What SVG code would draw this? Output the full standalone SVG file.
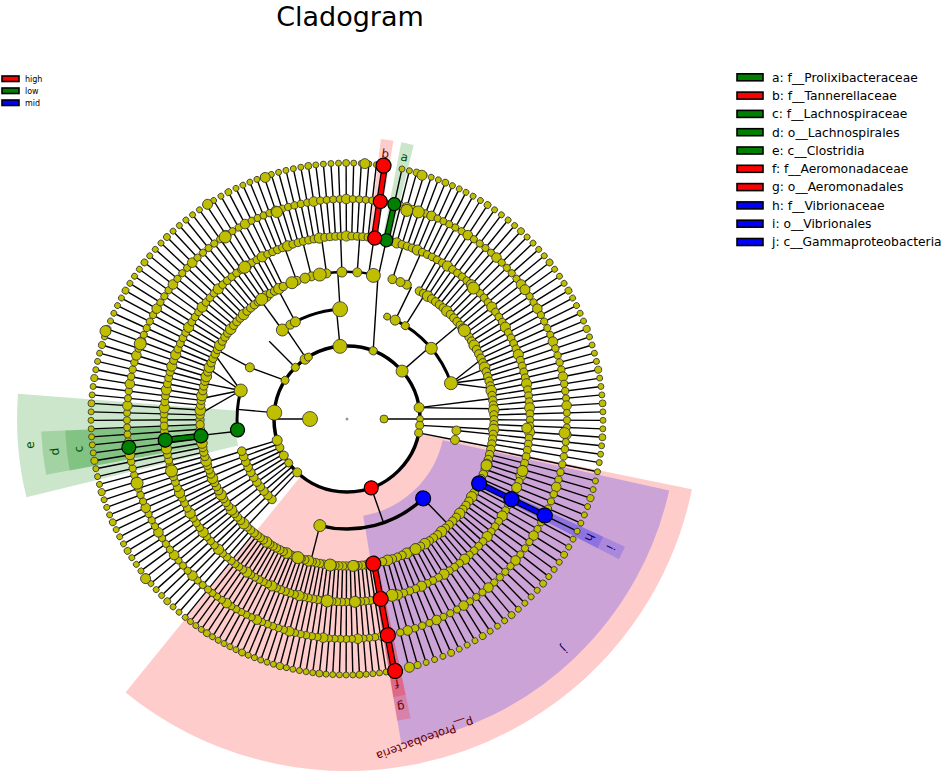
<svg xmlns="http://www.w3.org/2000/svg" width="941" height="772" viewBox="0 0 941 772">
<style>
text{font-family:"DejaVu Sans","Liberation Sans",sans-serif}
.k{stroke:#000;stroke-width:1.4;fill:none}
.arc{fill:none;stroke:#000}
.n{fill:#bfbf00;stroke:#333;stroke-width:0.8}
.hl{fill:none}
.lb{font-size:12px;text-anchor:middle;dominant-baseline:central}
.lg{font-size:12.3px;fill:#000}
.sl{font-size:8px;fill:#000}
.bx{stroke:#000;stroke-width:1.6}
</style>
<defs>
<g id="L3"><line x1="147" x2="256" stroke="currentColor" stroke-width="1.4"/><circle cx="147" r="4.2"/><circle cx="183" r="3.9"/><circle cx="220" r="3.6"/><circle cx="256" r="3"/></g>
<g id="M3"><line x1="147" x2="256" stroke="currentColor" stroke-width="1.4"/><circle cx="147" r="5.3"/><circle cx="183" r="5.1"/><circle cx="220" r="4.8"/><circle cx="256" r="3.5"/></g>
<g id="L2"><line x1="183" x2="256" stroke="currentColor" stroke-width="1.4"/><circle cx="183" r="3.9"/><circle cx="220" r="3.6"/><circle cx="256" r="3"/></g>
<g id="M2"><line x1="183" x2="256" stroke="currentColor" stroke-width="1.4"/><circle cx="183" r="5.1"/><circle cx="220" r="4.8"/><circle cx="256" r="3.5"/></g>
<g id="P"><line x1="73" x2="147" stroke="currentColor" stroke-width="1.4"/><circle cx="110" r="4.3"/></g>
<g id="Q"><line x1="147" x2="183" stroke="currentColor" stroke-width="1.4"/><circle cx="147" r="4.5"/></g>
<g id="Q2"><line x1="147" x2="183" stroke="currentColor" stroke-width="1.4"/></g>
<g id="LV">
<use href="#L3" transform="rotate(179.7)"/><use href="#L3" transform="rotate(-178.4)"/><use href="#M3" transform="rotate(-176.5)"/><use href="#L3" transform="rotate(-174.6)"/><use href="#L3" transform="rotate(-172.7)"/><use href="#M3" transform="rotate(-170.8)"/><use href="#L3" transform="rotate(-168.9)"/><use href="#L3" transform="rotate(-167)"/><use href="#L3" transform="rotate(-165.1)"/><use href="#M3" transform="rotate(-163.2)"/><use href="#L3" transform="rotate(-161.3)"/><use href="#M3" transform="rotate(-159.4)"/><use href="#L3" transform="rotate(-157.5)"/><use href="#L3" transform="rotate(-155.6)"/><use href="#L3" transform="rotate(-153.7)"/><use href="#L3" transform="rotate(-151.8)"/><use href="#M3" transform="rotate(-149.9)"/><use href="#L3" transform="rotate(-148)"/><use href="#L3" transform="rotate(-146.1)"/><use href="#L3" transform="rotate(-144.2)"/><use href="#M3" transform="rotate(-142.3)"/><use href="#L3" transform="rotate(-140.4)"/><use href="#L3" transform="rotate(-138.5)"/><use href="#L3" transform="rotate(-136.6)"/><use href="#M3" transform="rotate(-134.7)"/><use href="#L3" transform="rotate(-132.8)"/><use href="#L3" transform="rotate(-130.9)"/><use href="#L3" transform="rotate(-129)"/><use href="#L3" transform="rotate(-127.1)"/><use href="#L3" transform="rotate(-125.2)"/><use href="#M3" transform="rotate(-123.3)"/><use href="#L3" transform="rotate(-121.4)"/><use href="#L3" transform="rotate(-119.5)"/><use href="#M3" transform="rotate(-117.6)"/><use href="#L3" transform="rotate(-115.7)"/>
<use href="#L2" transform="rotate(-114)"/><use href="#L2" transform="rotate(-112.3)"/><use href="#L2" transform="rotate(-110.6)"/><use href="#M2" transform="rotate(-108.9)"/><use href="#L2" transform="rotate(-107.2)"/><use href="#L2" transform="rotate(-105.5)"/><use href="#L2" transform="rotate(-103.8)"/><use href="#L2" transform="rotate(-102.1)"/><use href="#L2" transform="rotate(-100.4)"/><use href="#M2" transform="rotate(-98.7)"/><use href="#L2" transform="rotate(-97)"/><use href="#L2" transform="rotate(-95.3)"/><use href="#L2" transform="rotate(-93.6)"/><use href="#L2" transform="rotate(-91.9)"/><use href="#M2" transform="rotate(-90.2)"/><use href="#L2" transform="rotate(-88.5)"/><use href="#L2" transform="rotate(-86.8)"/><use href="#L2" transform="rotate(-85.1)"/><use href="#L2" transform="rotate(-83.4)"/><use href="#L2" transform="rotate(-77.6)"/><use href="#L2" transform="rotate(-75.9)"/><use href="#M2" transform="rotate(-74.2)"/><use href="#L2" transform="rotate(-72.5)"/><use href="#L2" transform="rotate(-70.8)"/><use href="#L2" transform="rotate(-69.1)"/><use href="#M2" transform="rotate(-67.4)"/><use href="#L2" transform="rotate(-65.7)"/><use href="#L2" transform="rotate(-64)"/><use href="#L2" transform="rotate(-62.3)"/>
<use href="#Q" transform="rotate(-110)"/><use href="#Q" transform="rotate(-104)"/><use href="#Q" transform="rotate(-98)"/><use href="#Q" transform="rotate(-92)"/><use href="#Q" transform="rotate(-86)"/><use href="#Q" transform="rotate(-72)"/><use href="#Q" transform="rotate(-66)"/><use href="#Q2" transform="rotate(-81.5)"/><use href="#Q2" transform="rotate(-77.6)"/>
<use href="#L3" transform="rotate(-60.5)"/><use href="#L3" transform="rotate(-58.6)"/><use href="#M3" transform="rotate(-56.7)"/><use href="#L3" transform="rotate(-54.8)"/><use href="#L3" transform="rotate(-52.9)"/><use href="#L3" transform="rotate(-51)"/><use href="#L3" transform="rotate(-49.1)"/><use href="#M3" transform="rotate(-47.2)"/><use href="#L3" transform="rotate(-45.3)"/><use href="#L3" transform="rotate(-43.4)"/><use href="#L3" transform="rotate(-41.5)"/><use href="#L3" transform="rotate(-39.6)"/><use href="#M3" transform="rotate(-37.7)"/><use href="#L3" transform="rotate(-35.8)"/><use href="#L3" transform="rotate(-33.9)"/><use href="#L3" transform="rotate(-32)"/><use href="#M3" transform="rotate(-30.1)"/><use href="#L3" transform="rotate(-28.2)"/><use href="#L3" transform="rotate(-26.3)"/><use href="#L3" transform="rotate(-24.4)"/><use href="#L3" transform="rotate(-22.5)"/><use href="#M3" transform="rotate(-20.6)"/><use href="#L3" transform="rotate(-18.7)"/><use href="#L3" transform="rotate(-16.8)"/><use href="#L3" transform="rotate(-14.9)"/><use href="#L3" transform="rotate(-13)"/><use href="#M3" transform="rotate(-11.1)"/><use href="#L3" transform="rotate(-9.2)"/><use href="#L3" transform="rotate(-7.3)"/><use href="#L3" transform="rotate(-5.4)"/><use href="#M3" transform="rotate(-3.5)"/><use href="#L3" transform="rotate(-1.6)"/>
<use href="#L3" transform="rotate(0.3)"/><use href="#L3" transform="rotate(2.2)"/><use href="#M3" transform="rotate(4.1)"/><use href="#L3" transform="rotate(6)"/><use href="#L3" transform="rotate(7.9)"/><use href="#L3" transform="rotate(9.8)"/><use href="#L3" transform="rotate(11.9)"/>
<use href="#L3" transform="rotate(14)"/><use href="#L3" transform="rotate(16)"/><use href="#M3" transform="rotate(18)"/><use href="#L3" transform="rotate(20)"/><use href="#L3" transform="rotate(22)"/><use href="#L3" transform="rotate(24)"/><use href="#L3" transform="rotate(26)"/><use href="#L3" transform="rotate(28)"/><use href="#L3" transform="rotate(30)"/><use href="#M3" transform="rotate(32)"/><use href="#L3" transform="rotate(34)"/><use href="#L3" transform="rotate(36)"/><use href="#L3" transform="rotate(38)"/><use href="#M3" transform="rotate(40)"/><use href="#L3" transform="rotate(42)"/><use href="#L3" transform="rotate(44)"/><use href="#L3" transform="rotate(46)"/><use href="#L3" transform="rotate(48)"/><use href="#M3" transform="rotate(50)"/><use href="#L3" transform="rotate(52)"/><use href="#L3" transform="rotate(54)"/><use href="#L3" transform="rotate(56)"/><use href="#M3" transform="rotate(58)"/><use href="#L3" transform="rotate(60)"/><use href="#L3" transform="rotate(62)"/><use href="#L3" transform="rotate(64)"/><use href="#M3" transform="rotate(66)"/><use href="#L3" transform="rotate(68)"/><use href="#L3" transform="rotate(70)"/><use href="#L3" transform="rotate(72)"/><use href="#M3" transform="rotate(74)"/><use href="#L3" transform="rotate(76)"/>
<use href="#L3" transform="rotate(81.2)"/><use href="#L3" transform="rotate(82.7)"/><use href="#L3" transform="rotate(84.2)"/><use href="#L3" transform="rotate(85.7)"/><use href="#M3" transform="rotate(87.2)"/><use href="#L3" transform="rotate(88.7)"/><use href="#L3" transform="rotate(90.2)"/><use href="#L3" transform="rotate(91.7)"/><use href="#L3" transform="rotate(93.2)"/><use href="#L3" transform="rotate(94.7)"/><use href="#M3" transform="rotate(96.2)"/><use href="#L3" transform="rotate(97.7)"/><use href="#L3" transform="rotate(99.2)"/><use href="#L3" transform="rotate(100.7)"/><use href="#L3" transform="rotate(102.2)"/><use href="#L3" transform="rotate(103.7)"/><use href="#M3" transform="rotate(105.2)"/><use href="#L3" transform="rotate(106.7)"/><use href="#L3" transform="rotate(108.2)"/><use href="#L3" transform="rotate(109.7)"/><use href="#L3" transform="rotate(111.2)"/><use href="#L3" transform="rotate(112.7)"/><use href="#M3" transform="rotate(114.2)"/><use href="#L3" transform="rotate(115.7)"/><use href="#L3" transform="rotate(117.2)"/><use href="#L3" transform="rotate(118.7)"/><use href="#L3" transform="rotate(120.2)"/><use href="#L3" transform="rotate(121.7)"/><use href="#M3" transform="rotate(123.2)"/><use href="#L3" transform="rotate(124.7)"/><use href="#L3" transform="rotate(126.2)"/><use href="#L3" transform="rotate(127.7)"/><use href="#L3" transform="rotate(129.2)"/>
<use href="#L3" transform="rotate(131)"/><use href="#L3" transform="rotate(132.8)"/><use href="#M3" transform="rotate(134.6)"/><use href="#L3" transform="rotate(136.4)"/><use href="#L3" transform="rotate(138.2)"/><use href="#L3" transform="rotate(140)"/><use href="#M3" transform="rotate(141.8)"/><use href="#L3" transform="rotate(143.6)"/><use href="#L3" transform="rotate(145.4)"/><use href="#L3" transform="rotate(147.2)"/><use href="#M3" transform="rotate(149)"/><use href="#L3" transform="rotate(150.8)"/><use href="#L3" transform="rotate(152.6)"/><use href="#L3" transform="rotate(154.4)"/><use href="#M3" transform="rotate(156.2)"/><use href="#L3" transform="rotate(158)"/><use href="#L3" transform="rotate(159.8)"/><use href="#L3" transform="rotate(161.6)"/><use href="#M3" transform="rotate(163.4)"/><use href="#L3" transform="rotate(165.2)"/><use href="#L3" transform="rotate(167)"/><use href="#L3" transform="rotate(168.8)"/><use href="#M3" transform="rotate(170.6)"/><use href="#L3" transform="rotate(172.4)"/><use href="#L3" transform="rotate(174.2)"/><use href="#L3" transform="rotate(176)"/><use href="#L3" transform="rotate(177.8)"/>
<use href="#P" transform="rotate(133)"/><use href="#P" transform="rotate(136)"/><use href="#P" transform="rotate(139)"/><use href="#P" transform="rotate(142)"/><use href="#P" transform="rotate(145)"/><use href="#P" transform="rotate(148)"/><use href="#P" transform="rotate(151)"/><use href="#P" transform="rotate(154)"/><use href="#P" transform="rotate(157)"/><use href="#P" transform="rotate(160)"/><use href="#P" transform="rotate(163)"/>
</g>
</defs>
<rect width="941" height="772" fill="#fff"/>
<text x="350" y="26" font-size="27" text-anchor="middle">Cladogram</text>
<g id="clado" transform="translate(347,419)">
<g id="highlights" class="hl">
<circle r="213" stroke="#f00" stroke-opacity="0.2" stroke-width="278" fill="none" pathLength="360" stroke-dasharray="117.5 400" transform="rotate(11.5)"/>
<circle r="214" stroke="#00f" stroke-opacity="0.2" stroke-width="232" fill="none" pathLength="360" stroke-dasharray="68 400" transform="rotate(12.5)"/>
<circle r="221" stroke="#008000" stroke-opacity="0.2" stroke-width="218" fill="none" pathLength="360" stroke-dasharray="18.1 400" transform="rotate(166.3)"/>
<circle r="226.5" stroke="#008000" stroke-opacity="0.2" stroke-width="159" fill="none" pathLength="360" stroke-dasharray="8.2 400" transform="rotate(169.5)"/>
<circle r="232.5" stroke="#008000" stroke-opacity="0.2" stroke-width="99" fill="none" pathLength="360" stroke-dasharray="8.2 400" transform="rotate(169.5)"/>
<circle r="226" stroke="#00f" stroke-opacity="0.16" stroke-width="160" fill="none" pathLength="360" stroke-dasharray="2.6 400" transform="rotate(24.7)"/>
<circle r="232.5" stroke="#00f" stroke-opacity="0.16" stroke-width="99" fill="none" pathLength="360" stroke-dasharray="2.6 400" transform="rotate(24.7)"/>
<circle r="226" stroke="#f00" stroke-opacity="0.2" stroke-width="160" fill="none" pathLength="360" stroke-dasharray="2.6 400" transform="rotate(78)"/>
<circle r="232.5" stroke="#f00" stroke-opacity="0.2" stroke-width="99" fill="none" pathLength="360" stroke-dasharray="2.6 400" transform="rotate(78)"/>
<circle r="232.5" stroke="#008000" stroke-opacity="0.2" stroke-width="99" fill="none" pathLength="360" stroke-dasharray="2.6 400" transform="rotate(-78.9)"/>
<circle r="232.5" stroke="#f00" stroke-opacity="0.2" stroke-width="99" fill="none" pathLength="360" stroke-dasharray="2.6 400" transform="rotate(-83.1)"/>
</g>
<g id="connectors">
<use href="#LV" fill="none" stroke="none" color="#000"/>
<circle r="73" class="arc" stroke-width="3.5"/>
<circle r="110" class="arc" stroke-width="3" pathLength="360" stroke-dasharray="20.7 400" transform="rotate(174.3)"/>
<circle r="110" class="arc" stroke-width="3" pathLength="360" stroke-dasharray="32.4 400" transform="rotate(-126)"/>
<circle r="110" class="arc" stroke-width="3" pathLength="360" stroke-dasharray="45 400" transform="rotate(-64)"/>
<circle r="110" class="arc" stroke-width="3.5" pathLength="360" stroke-dasharray="58.1 400" transform="rotate(46.2)"/>
<circle r="147" class="arc" stroke-width="2.5" pathLength="360" stroke-dasharray="34.3 400" transform="rotate(-112)"/>
<circle r="147" class="arc" stroke-width="3" pathLength="360" stroke-dasharray="61.4 400" transform="rotate(18.4)"/>
<circle r="147" class="arc" stroke-width="2.5" pathLength="360" stroke-dasharray="18 400" transform="rotate(92)"/>
<g class="k">
<line x1="37" x2="73" transform="rotate(180)"/><line x1="37" x2="73"/>
<line x1="73" x2="110" transform="rotate(-175)"/><line x1="73" x2="110" transform="rotate(-135)"/><line x1="73" x2="110" transform="rotate(-124)"/><line x1="73" x2="110" transform="rotate(-95.5)"/><line x1="73" x2="110" transform="rotate(-41)"/><line x1="73" x2="110" transform="rotate(70.6)"/><line x1="73" x2="110" transform="rotate(11)"/>
<line x1="-61.9" y1="-38.7" x2="-97.1" y2="-51.6"/>
<line x1="26.2" y1="-68.2" x2="30.9" y2="-141.7"/>
<line x1="110" x2="147" transform="rotate(-152)"/><line x1="110" x2="147" transform="rotate(-126)"/><line x1="110" x2="147" transform="rotate(-118)"/><line x1="110" x2="147" transform="rotate(-93.6)"/><line x1="110" x2="147" transform="rotate(-64)"/><line x1="110" x2="147" transform="rotate(-58)"/><line x1="110" x2="147" transform="rotate(-40)"/><line x1="110" x2="147" transform="rotate(46.2)"/><line x1="110" x2="147" transform="rotate(104.3)"/><line x1="110" x2="147" transform="rotate(6)"/><line x1="110" x2="147" transform="rotate(11)"/><line x1="110" x2="147" transform="rotate(173.6)"/>
<line x1="-106.3" y1="-28.5" x2="-146.9" y2="-5.1"/><line x1="-106.3" y1="-28.5" x2="-145.6" y2="-20.5"/><line x1="-106.3" y1="-28.5" x2="-142.6" y2="-35.6"/><line x1="-106.3" y1="-28.5" x2="-138.1" y2="-50.3"/><line x1="-106.3" y1="-28.5" x2="-132.1" y2="-64.4"/>
<line x1="104" y1="-35.8" x2="134.3" y2="-59.8"/><line x1="104" y1="-35.8" x2="138.1" y2="-50.3"/><line x1="104" y1="-35.8" x2="141.3" y2="-40.5"/><line x1="104" y1="-35.8" x2="143.8" y2="-30.6"/>
<line x1="72.1" y1="-11.4" x2="145.6" y2="-20.5"/><line x1="72.1" y1="-11.4" x2="146.6" y2="-10.3"/><line x1="73" y1="0" x2="147" y2="0"/><line x1="72.7" y1="6.4" x2="146.6" y2="10.3"/>
</g>
</g>
<g id="nodes" class="n">
<use href="#LV" fill="#bfbf00" stroke="#333" stroke-width="0.8" color="transparent"/>
<circle r="1.5" fill="#999" stroke="none"/>
<circle cx="37" r="7.5" transform="rotate(180)"/><circle cx="37" r="4"/>
<circle cx="73" r="7.5" transform="rotate(-175)"/><circle cx="73" r="4" transform="rotate(-148)"/><circle cx="73" r="4" transform="rotate(-135)"/><circle cx="73" r="5" transform="rotate(-125)"/><circle cx="73" r="4" transform="rotate(-122)"/><circle cx="73" r="7" transform="rotate(-95.5)"/><circle cx="73" r="4" transform="rotate(-69)"/><circle cx="73" r="6" transform="rotate(-41)"/><circle cx="73" r="5" transform="rotate(-9)"/><circle cx="73" r="3.5"/><circle cx="73" r="4" transform="rotate(5)"/><circle cx="73" r="4" transform="rotate(11)"/><circle cx="73" r="4.5" transform="rotate(133)"/><circle cx="73" r="4" transform="rotate(143)"/><circle cx="73" r="4.5" transform="rotate(150)"/><circle cx="73" r="4" transform="rotate(157)"/><circle cx="73" r="5" transform="rotate(163)"/>
<circle cx="110" r="6.5" transform="rotate(-165)"/><circle cx="110" r="4.5" transform="rotate(-152)"/><circle cx="110" r="6" transform="rotate(-126)"/><circle cx="110" r="4.5" transform="rotate(-121)"/><circle cx="110" r="5" transform="rotate(-118)"/><circle cx="110" r="7.5" transform="rotate(-93.6)"/><circle cx="110" r="3.5" transform="rotate(-68.6)"/><circle cx="110" r="5" transform="rotate(-64)"/><circle cx="110" r="4" transform="rotate(-58)"/><circle cx="110" r="6" transform="rotate(-40)"/><circle cx="110" r="6.5" transform="rotate(-19)"/><circle cx="110" r="4.5" transform="rotate(6)"/><circle cx="110" r="4.5" transform="rotate(11)"/><circle cx="110" r="6" transform="rotate(104.3)"/>
<circle cx="147" r="6" transform="rotate(-112)"/><circle cx="147" r="5" transform="rotate(-106.6)"/><circle cx="147" r="6.5" transform="rotate(-100.7)"/><circle cx="147" r="5" transform="rotate(-92)"/><circle cx="146" r="7" transform="rotate(-79.6)"/><circle cx="147" r="4.5" transform="rotate(-68.7)"/><circle cx="147" r="6" transform="rotate(-37)"/><circle cx="147" r="6" transform="rotate(-125.5)"/><circle cx="147" r="5.5" transform="rotate(18.4)"/><circle cx="147" r="5.5" transform="rotate(62.2)"/><circle cx="147" r="5.5" transform="rotate(87.6)"/><circle cx="147" r="6" transform="rotate(96.6)"/><circle cx="147" r="6" transform="rotate(109.5)"/>
<circle cx="183" r="6" transform="rotate(-124)"/><circle cx="219" r="6" transform="rotate(-123.8)"/><circle cx="256" r="5" transform="rotate(-123)"/><circle cx="218.5" r="5.5" transform="rotate(-108.7)"/><circle cx="255" r="5" transform="rotate(-108.7)"/><circle cx="257" r="5.5" transform="rotate(-160)"/><circle cx="220" r="6" transform="rotate(-160)"/><circle cx="219" r="6" transform="rotate(-71)"/><circle cx="255" r="5" transform="rotate(-72.9)"/><circle cx="182" r="6" transform="rotate(-46)"/><circle cx="220" r="5" transform="rotate(-36)"/><circle cx="219.5" r="6" transform="rotate(163)"/><circle cx="183" r="6" transform="rotate(163.5)"/><circle cx="183" r="6" transform="rotate(96.2)"/><circle cx="257" r="5" transform="rotate(141.6)"/><circle cx="183" r="5.5" transform="rotate(16.5)"/><circle cx="183" r="5" transform="rotate(22)"/><circle cx="182" r="6" transform="rotate(75.7)"/><circle cx="183" r="5.5" transform="rotate(87.5)"/><circle cx="218" r="5.5" transform="rotate(3.7)"/><circle cx="180" r="5" transform="rotate(2.9)"/><circle cx="217" r="6" transform="rotate(-74)"/><circle cx="256" r="5" transform="rotate(-86)"/><circle cx="256" r="5" transform="rotate(75.9)"/>
</g>
<g id="significant">
<g stroke="#000" stroke-width="6.5"><line x1="147" x2="183" transform="rotate(173.4)"/><line x1="183" x2="220" transform="rotate(-77.6)"/><line x1="183" x2="256" transform="rotate(-81.5)"/><line x1="147" x2="256" transform="rotate(79.4)"/><line x1="147" x2="220" transform="rotate(26)"/></g>
<g stroke-width="4"><line x1="147" x2="183" transform="rotate(173.4)" stroke="#008000"/><line x1="183" x2="220" transform="rotate(-77.6)" stroke="#008000"/><line x1="183" x2="256" transform="rotate(-81.5)" stroke="#f00"/><line x1="147" x2="256" transform="rotate(79.4)" stroke="#f00"/><line x1="147" x2="220" transform="rotate(26)" stroke="#00f"/></g>
<g id="n_clostridia" fill="#008000" stroke="#000" stroke-width="1.2"><circle cx="110" r="7" transform="rotate(174.3)"/><circle cx="147" r="7" transform="rotate(173.4)"/><circle cx="183" r="7" transform="rotate(173.4)"/><circle cx="220" r="7" transform="rotate(172.6)"/></g>
<g id="n_prolixibacteraceae" fill="#008000" stroke="#000" stroke-width="1.2"><circle cx="183" r="6.5" transform="rotate(-77.6)"/><circle cx="220" r="6.5" transform="rotate(-77.6)"/></g>
<g id="n_tannerellaceae" fill="#f00" stroke="#000" stroke-width="1.2"><circle cx="183" r="7" transform="rotate(-81.3)"/><circle cx="220" r="7" transform="rotate(-81.3)"/><circle cx="256" r="7.5" transform="rotate(-81.8)"/></g>
<g id="n_proteobacteria" fill="#f00" stroke="#000" stroke-width="1.2"><circle cx="73" r="7" transform="rotate(70.6)"/><circle cx="147" r="7.5" transform="rotate(79.7)"/><circle cx="183" r="7.5" transform="rotate(79.4)"/><circle cx="220" r="7.5" transform="rotate(79.3)"/><circle cx="256.5" r="7.5" transform="rotate(79.2)"/></g>
<g id="n_gamma" fill="#00f" stroke="#000" stroke-width="1.2"><circle cx="110" r="7.5" transform="rotate(46.2)"/><circle cx="147" r="7.5" transform="rotate(26)"/><circle cx="183" r="7.5" transform="rotate(26)"/><circle cx="220" r="7.5" transform="rotate(26)"/></g>
</g>
<g id="labels">
<text class="lb" fill="#005000" transform="rotate(-77.6) translate(268,0) rotate(90)">a</text>
<text class="lb" fill="#700000" transform="rotate(-81.8) translate(268,0) rotate(90)">b</text>
<text class="lb" fill="#005000" transform="rotate(173.6) translate(270,0) rotate(90)">c</text>
<text class="lb" fill="#005000" transform="rotate(173.6) translate(294,0) rotate(90)">d</text>
<text class="lb" fill="#005000" transform="rotate(175.3) translate(318,0) rotate(90)">e</text>
<text class="lb" fill="#700000" transform="rotate(79.3) translate(269,0) rotate(90)">f</text>
<text class="lb" fill="#700000" transform="rotate(79.4) translate(293,0) rotate(90)">g</text>
<text class="lb" fill="#000070" transform="rotate(26) translate(270,0) rotate(90)">h</text>
<text class="lb" fill="#000070" transform="rotate(26) translate(293,0) rotate(90)">i</text>
<text class="lb" fill="#000070" transform="rotate(46.7) translate(316,0) rotate(90)">j</text>
<text class="lb" fill="#6b0000" style="font-size:11.5px" transform="translate(78,320) rotate(160)">p__Proteobacteria</text>
</g>
</g>
<g id="legend-class">
<rect class="bx" x="2" y="76" width="17" height="5.5" fill="#f00"/><text class="sl" x="25" y="81.5">high</text>
<rect class="bx" x="2" y="88" width="17" height="5.5" fill="#008000"/><text class="sl" x="25" y="93.5">low</text>
<rect class="bx" x="2" y="100" width="17" height="5.5" fill="#00f"/><text class="sl" x="25" y="105.5">mid</text>
</g>
<g id="legend-taxa">
<rect class="bx" x="737" y="73.8" width="26" height="7" fill="#008000"/><text class="lg" x="772" y="81.6">a: f__Prolixibacteraceae</text>
<rect class="bx" x="737" y="92.1" width="26" height="7" fill="#f00"/><text class="lg" x="772" y="99.9">b: f__Tannerellaceae</text>
<rect class="bx" x="737" y="110.4" width="26" height="7" fill="#008000"/><text class="lg" x="772" y="118.2">c: f__Lachnospiraceae</text>
<rect class="bx" x="737" y="128.7" width="26" height="7" fill="#008000"/><text class="lg" x="772" y="136.5">d: o__Lachnospirales</text>
<rect class="bx" x="737" y="147" width="26" height="7" fill="#008000"/><text class="lg" x="772" y="154.8">e: c__Clostridia</text>
<rect class="bx" x="737" y="165.3" width="26" height="7" fill="#f00"/><text class="lg" x="772" y="173.1">f: f__Aeromonadaceae</text>
<rect class="bx" x="737" y="183.6" width="26" height="7" fill="#f00"/><text class="lg" x="772" y="191.4">g: o__Aeromonadales</text>
<rect class="bx" x="737" y="201.9" width="26" height="7" fill="#00f"/><text class="lg" x="772" y="209.7">h: f__Vibrionaceae</text>
<rect class="bx" x="737" y="220.2" width="26" height="7" fill="#00f"/><text class="lg" x="772" y="228">i: o__Vibrionales</text>
<rect class="bx" x="737" y="238.5" width="26" height="7" fill="#00f"/><text class="lg" x="772" y="246.3">j: c__Gammaproteobacteria</text>
</g>
</svg>
